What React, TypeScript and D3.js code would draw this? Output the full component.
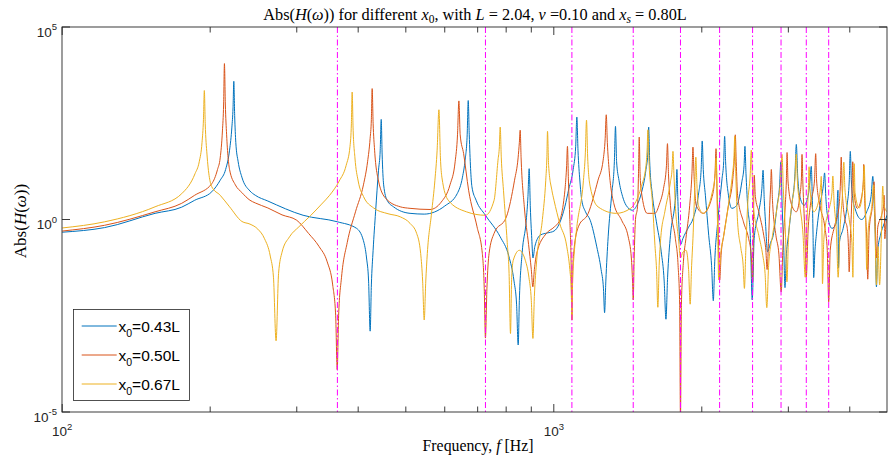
import React from "react";
import * as d3 from "d3";

// ---------- data (frequency [Hz], log10 |H|) ----------
const seriesBlue: [number, number][] = [
  [100,-0.33],[122,-0.21],[154.5,0.16],[175,0.32],[186,0.5],[201.5,0.72],[209.6,1.02],[215,1.3],[219,1.8],[221.4,2.4],[222.6,2.9],[223.4,3.59],[224.3,2.7],[225.5,2.0],[228,1.5],[232,1.1],[241,0.74],[247,0.63],[262,0.48],[309,0.11],[363,-0.06],[397,-0.23],[410,-0.55],[416,-1.0],[420,-1.6],[423.1,-2.9],[425.5,-1.7],[429,-0.8],[434,0.2],[440,1.28],[443.5,1.8],[445.6,2.6],[447.5,1.7],[450.7,0.9],[458,0.5],[472,0.33],[510,0.16],[545,0.14],[600,0.35],[636,0.67],[652,1.1],[660,1.54],[666.5,2.2],[669.8,3.09],[673,2.2],[681.5,0.85],[695,0.5],[726,0.11],[778,-0.45],[810,-0.95],[830,-1.6],[840,-2.2],[846.4,-3.26],[851,-2.1],[862,-0.88],[879,-0.02],[886,0.6],[891,1.32],[896,0.3],[902,-0.5],[907,-1.0],[915,-0.7],[940,-0.4],[970,-0.35],[1001,-0.3],[1027,-0.1],[1053,0.33],[1073,0.8],[1095,1.3],[1108,1.9],[1114,2.66],[1120,1.8],[1130,1.0],[1140,0.5],[1160,0.2],[1186,-0.02],[1223,-0.71],[1248,-1.3],[1262,-1.8],[1268.5,-2.42],[1276,-1.6],[1290,-0.45],[1312,0.67],[1328,1.5],[1335,2.42],[1342,1.5],[1357,1.02],[1380,0.6],[1403,0.37],[1445,0.24],[1480,0.4],[1506,0.67],[1540,1.3],[1553,1.7],[1559.6,2.4],[1567,1.5],[1587,0.63],[1617,-0.06],[1654,-0.84],[1677,-1.6],[1691,-2.59],[1704,-1.5],[1727,-0.41],[1762,0.37],[1774,0.8],[1780,1.3],[1787,0.6],[1799,-0.3],[1812,-0.65],[1830,-0.5],[1880,-0.2],[1921,0.03],[1968,0.63],[1994,1.3],[2004,2.04],[2014,1.3],[2034,0.63],[2066,-0.41],[2094,-1.2],[2111,-2.11],[2125,-1.1],[2155,-0.06],[2199,1.06],[2216,1.5],[2226,2.16],[2236,1.5],[2266,0.63],[2302,0.29],[2356,0.37],[2413,0.98],[2438,1.4],[2448,1.9],[2460,1.2],[2479,0.37],[2510,-0.41],[2533,-2.09],[2556,-0.5],[2612,0.2],[2650,0.8],[2665,1.28],[2680,0.5],[2695,-0.06],[2722,-0.84],[2760,-0.6],[2795,-0.41],[2847,0.37],[2880,0.9],[2896,1.49],[2915,0.3],[2937,-0.8],[2953,-1.77],[2970,-1.0],[3001,-0.41],[3048,0.37],[3095,1.2],[3114,1.95],[3135,1.1],[3161,0.63],[3230,0.37],[3292,0.63],[3320,1.0],[3340,1.38],[3355,0.6],[3368,-0.4],[3378,-1.51],[3395,-0.9],[3425,-0.32],[3478,0.37],[3535,0.9],[3555,1.21],[3575,0.6],[3598,0.16],[3680,-0.23],[3755,-0.1],[3785,0.76],[3794,-1.26],[3810,-0.6],[3878,-0.23],[3950,0.37],[3990,1.0],[4010,1.77],[4030,1.0],[4060,0.5],[4099,0.29],[4172,0.05],[4230,0.0],[4330,0.2],[4420,0.6],[4456,1.12],[4480,0.5],[4505,-0.3],[4532,-1.75],[4560,-0.8],[4617,-0.41],[4700,-0.1],[4762,0.11],
];

const seriesRed: [number, number][] = [
  [100,-0.30],[122,-0.15],[154.5,0.2],[175,0.42],[186,0.63],[201.5,0.93],[207,1.3],[209.6,1.6],[211.8,2.3],[213,3.0],[213.8,4.05],[214.7,3.0],[216,2.2],[219,1.3],[225,0.9],[232,0.7],[241,0.5],[247,0.43],[262,0.3],[280,0.12],[300,-0.02],[317,-0.36],[333,-0.7],[346,-1.1],[355,-1.7],[360,-2.5],[362.6,-3.9],[365,-2.5],[370,-1.5],[380,-0.6],[395,0.2],[410,0.9],[418,1.5],[423,2.1],[425.5,2.6],[427.1,3.4],[429,2.5],[432,1.8],[440,1.0],[455,0.55],[487,0.33],[510,0.29],[560,0.26],[590,0.45],[615,0.9],[630,1.5],[637,2.2],[641.1,3.08],[645,2.2],[655.5,1.71],[671,0.76],[698,-0.19],[715.5,-0.88],[722,-1.8],[726,-3.08],[731,-1.8],[738.5,-0.88],[756,-0.36],[801,0.07],[832,1.02],[846,1.6],[851,2.0],[854.3,2.32],[858,1.6],[871,0.33],[888.6,-0.65],[900,-1.3],[906.5,-1.75],[913,-1.3],[923,-0.88],[966,-0.36],[1001,-0.2],[1028,-0.02],[1048,0.5],[1055,0.85],[1062,1.4],[1066,1.9],[1071,1.0],[1078,0.0],[1084,-1.0],[1088.5,-2.61],[1093,-1.3],[1099,-0.8],[1122,-0.19],[1175,0.16],[1230,1.02],[1260,1.54],[1272,2.1],[1278.5,2.72],[1285,2.0],[1296,1.28],[1325,0.41],[1374,-0.02],[1417,-0.45],[1438,-1.0],[1446,-1.6],[1450.7,-2.09],[1457,-1.0],[1466,0.0],[1480,0.33],[1487,1.2],[1492,2.14],[1498,1.2],[1506,0.75],[1549,0.16],[1606,0.16],[1640,0.4],[1672,0.81],[1695,1.4],[1703,1.97],[1711,1.2],[1727,0.37],[1767,-0.49],[1790,-1.2],[1803,-2.2],[1810,-5.2],[1818,-2.2],[1835,-1.1],[1857,-0.49],[1890,0.37],[1910,1.2],[1919,1.88],[1928,1.2],[1948,0.37],[2014,0.16],[2100,0.6],[2128,1.2],[2138,1.84],[2148,0.8],[2160,-0.3],[2175,-1.57],[2190,-0.9],[2217,-0.41],[2266,0.37],[2313,1.06],[2330,1.6],[2340,2.2],[2350,1.5],[2365,0.63],[2431,-0.06],[2490,-0.49],[2520,-0.9],[2538,-1.62],[2548,0.0],[2557,1.15],[2570,0.6],[2612,0.2],[2673,-0.41],[2700,-0.8],[2716,-1.3],[2735,-0.5],[2750,0.37],[2762,0.9],[2770,1.3],[2785,0.5],[2830,-0.41],[2870,-0.9],[2901,-1.88],[2925,-0.7],[2955,0.3],[2972,1.0],[2982,1.74],[2995,1.0],[3048,0.37],[3114,0.2],[3165,0.6],[3190,1.1],[3198,1.69],[3212,0.9],[3240,-0.3],[3263,-1.49],[3290,-0.3],[3326,0.37],[3390,1.0],[3410,1.71],[3425,1.0],[3478,0.37],[3562,-0.23],[3600,-0.8],[3624,-2.14],[3650,-0.8],[3720,-0.2],[3800,0.3],[3830,1.0],[3843,1.62],[3860,0.8],[3910,0.0],[3950,-0.2],[3975,-0.7],[3989,-1.36],[4010,-0.5],[4040,0.6],[4056,1.5],[4075,0.8],[4143,0.29],[4230,0.6],[4262,1.0],[4270,1.43],[4290,0.5],[4330,-0.5],[4351,-1.55],[4380,-0.3],[4450,0.4],[4483,0.98],[4500,0.2],[4532,-1.0],[4560,-0.2],[4640,0.1],[4690,0.4],[4697,0.63],[4707,0.0],[4714,-0.5],[4740,-0.1],[4762,0.0],
];

const seriesYellow: [number, number][] = [
  [100,-0.22],[122,-0.06],[154.5,0.33],[175,0.67],[186.3,1.19],[190,1.5],[192.5,2.0],[193.8,2.6],[194.6,3.35],[195.4,2.5],[197,1.7],[201.5,0.85],[209.6,0.63],[219,0.33],[232,-0.05],[241,-0.12],[250,-0.25],[258,-0.5],[265,-0.95],[269,-1.5],[272.3,-3.15],[275.5,-1.4],[280,-0.85],[290,-0.45],[303,-0.19],[320,0.1],[337,0.4],[350,0.63],[366,1.0],[378,1.4],[385,1.9],[387.5,2.5],[388.9,3.31],[390.5,2.4],[394,1.6],[400,1.0],[410,0.6],[430,0.3],[460,0.15],[487,0.07],[510,-0.10],[526,-0.36],[536,-0.88],[541,-1.6],[545,-2.61],[549,-1.6],[553,-0.88],[564,0.16],[573,1.02],[579,1.8],[583.9,2.85],[588,1.6],[592,1.1],[610,0.5],[664,0.2],[726,0.11],[756,0.5],[770,1.54],[775,1.9],[778,2.4],[782,1.6],[790,0.76],[804,-0.6],[811,-1.4],[816.4,-2.96],[821,-1.5],[827,-1.06],[851,-0.8],[875,-1.06],[890,-1.5],[900,-2.1],[906.8,-3.09],[913,-2.0],[923,-1.06],[948,0.0],[963,1.02],[968,1.6],[971,2.29],[976,1.4],[991,0.76],[1001,0.5],[1028,-0.1],[1063,-0.71],[1078,-1.3],[1085,-1.8],[1088.5,-2.61],[1092,-1.6],[1100,-0.9],[1114,-0.19],[1149,1.02],[1159,1.7],[1165.6,2.58],[1172,1.6],[1186,0.85],[1230,0.33],[1340,0.16],[1433,0.29],[1506,0.85],[1540,1.4],[1548,1.8],[1554,2.33],[1562,1.5],[1587,0.45],[1606,-0.67],[1618,-1.3],[1628,-2.28],[1638,-1.2],[1650,-0.49],[1682,0.2],[1727,0.98],[1740,1.3],[1747.5,1.77],[1755,1.2],[1767,0.37],[1793,-0.49],[1810,-1.0],[1830,-0.85],[1858,-0.8],[1880,-1.3],[1894,-2.2],[1907,-1.2],[1919,-0.49],[1935,0.8],[1945,1.62],[1955,0.9],[1968,0.37],[2014,0.16],[2100,0.7],[2130,1.2],[2139,1.6],[2148,0.6],[2155,-0.4],[2165,-1.57],[2185,-0.9],[2217,-0.41],[2266,0.37],[2310,1.2],[2325,1.6],[2334,2.16],[2345,1.2],[2365,-0.06],[2402,-0.75],[2428,-1.2],[2442,-1.79],[2458,-0.8],[2479,0.37],[2510,1.2],[2522,1.8],[2535,1.0],[2548,0.3],[2612,-0.41],[2661,-0.93],[2690,-1.4],[2712,-2.29],[2735,-1.2],[2786,-0.41],[2850,0.37],[2895,1.1],[2912,1.69],[2930,0.8],[2960,-0.4],[2980,-1.62],[3000,-0.6],[3048,0.37],[3095,1.1],[3112,1.7],[3130,1.0],[3166,0.37],[3214,-0.41],[3247,-1.5],[3270,-0.2],[3295,0.8],[3306,1.37],[3320,0.8],[3380,0.2],[3460,0.5],[3490,0.9],[3500,1.12],[3510,0.0],[3520,-1.67],[3540,-0.6],[3562,-0.23],[3618,0.2],[3680,0.7],[3695,1.13],[3715,0.5],[3760,-0.4],[3788,-1.5],[3820,-0.3],[3870,0.8],[3890,1.49],[3910,0.8],[3990,0.0],[4040,-0.6],[4059,-1.5],[4072,0.0],[4084,1.45],[4100,0.7],[4180,0.3],[4260,0.9],[4279,1.4],[4300,0.5],[4315,-0.3],[4329,-1.3],[4360,-0.3],[4440,0.4],[4473,0.9],[4495,0.2],[4532,-1.7],[4565,-0.7],[4600,-1.7],[4640,-0.3],[4668,0.87],[4690,0.4],[4762,0.2],
];

const seriesLabels = ["0.43L", "0.50L", "0.67L"];
const seriesColors = ["#0072BD", "#D95319", "#EDB120"];

// vertical dash-dot marker lines (Hz)
const markerFreqs = [362.9, 726.1, 1088.5, 1450.7, 1810, 2174, 2537, 2899, 3263, 3624];

const xDomain = [100, 4762];
const yDomain = [1e-5, 1e5];
const xMajorTicks = [100, 1000];
const xMajorExp = ["2", "3"];
const xMinorTicks = [200, 300, 400, 500, 600, 700, 800, 900, 2000, 3000, 4000];
const yTicks = [1e-5, 1, 1e5];
const yTickExp = ["-5", "0", "5"];

const PL = 62.2, PR = 887, PT = 27, PB = 412;
const SANS = "'Liberation Sans', Arial, Helvetica, sans-serif";
const SERIF = "'Liberation Serif', 'Times New Roman', serif";
const AX = "#262626";

export default function App() {
  const x = d3.scaleLog().domain(xDomain).range([PL, PR]);
  const y = d3.scaleLog().domain(yDomain).range([PB, PT]);
  const line = d3
    .line<[number, number]>()
    .x((d) => x(d[0]))
    .y((d) => y(Math.pow(10, d[1])))
    .curve(d3.curveMonotoneX);

  const allSeries = [seriesBlue, seriesRed, seriesYellow];
  const BL = 62;

  return (
    <div style={{ position: "absolute", left: 0, top: 0, width: 888, height: 463, background: "#fff" }}>
      <svg width={888} height={463} viewBox="0 0 888 463">
        <defs>
          <clipPath id="plotclip">
            <rect x={BL} y={PT} width={PR - BL} height={PB - PT} />
          </clipPath>
        </defs>
        <rect x={0} y={0} width={888} height={463} fill="#fff" />

        <g clipPath="url(#plotclip)">
          {allSeries.map((s, i) => (
            <path key={i} d={line(s) || ""} fill="none" stroke={seriesColors[i]} strokeWidth={1} strokeLinejoin="round" />
          ))}
          {markerFreqs.map((f, i) => (
            <line key={i} x1={x(f)} x2={x(f)} y1={PT} y2={PB} stroke="#FF00FF" strokeWidth={1} strokeDasharray="6,2.5,1.5,2.5" />
          ))}
        </g>

        {/* axes box */}
        <rect x={BL} y={PT} width={PR - BL} height={PB - PT} fill="none" stroke={AX} strokeWidth={0.9} />

        {/* x ticks */}
        {xMajorTicks.map((t, i) => (
          <g key={"xm" + i}>
            <line x1={x(t)} x2={x(t)} y1={PB} y2={PB - 8} stroke={AX} strokeWidth={0.9} />
            <line x1={x(t)} x2={x(t)} y1={PT} y2={PT + 8} stroke={AX} strokeWidth={0.9} />
            <text x={x(t)} y={436} textAnchor="middle" fontFamily={SANS} fontSize={13.5} fill={AX}>
              10<tspan dy={-6.5} fontSize={9.5}>{xMajorExp[i]}</tspan>
            </text>
          </g>
        ))}
        {xMinorTicks.map((t, i) => (
          <g key={"xn" + i}>
            <line x1={x(t)} x2={x(t)} y1={PB} y2={PB - 5.5} stroke={AX} strokeWidth={0.9} />
            <line x1={x(t)} x2={x(t)} y1={PT} y2={PT + 5.5} stroke={AX} strokeWidth={0.9} />
          </g>
        ))}

        {/* y ticks */}
        {yTicks.map((t, i) => (
          <g key={"y" + i}>
            <line x1={BL} x2={BL + 8} y1={y(t)} y2={y(t)} stroke={AX} strokeWidth={0.9} />
            <line x1={PR} x2={PR - 8} y1={y(t)} y2={y(t)} stroke={AX} strokeWidth={0.9} />
            <text x={57} y={y(t) + 9.5} textAnchor="end" fontFamily={SANS} fontSize={13.5} fill={AX}>
              10<tspan dy={-6.5} fontSize={9.5}>{yTickExp[i]}</tspan>
            </text>
          </g>
        ))}

        {/* title */}
        <text x={475} y={20} textAnchor="middle" fontFamily={SERIF} fontSize={16.3} fill="#000">
          Abs(<tspan fontStyle="italic">H</tspan>(<tspan fontStyle="italic">ω</tspan>)) for different{" "}
          <tspan fontStyle="italic">x</tspan>
          <tspan fontSize={11.5} dy={3}>0</tspan>
          <tspan dy={-3}>, with </tspan>
          <tspan fontStyle="italic">L</tspan> = 2.04, <tspan fontStyle="italic">ν</tspan> =0.10 and{" "}
          <tspan fontStyle="italic">x</tspan>
          <tspan fontSize={11.5} dy={3} fontStyle="italic">s</tspan>
          <tspan dy={-3}> = 0.80L</tspan>
        </text>

        {/* x label */}
        <text x={478} y={451} textAnchor="middle" fontFamily={SERIF} fontSize={15.8} fill="#000">
          Frequency, <tspan fontStyle="italic">f</tspan> [Hz]
        </text>

        {/* y label */}
        <text transform="translate(26,221) rotate(-90)" textAnchor="middle" fontFamily={SERIF} fontSize={17} fill="#000">
          Abs(<tspan fontStyle="italic">H</tspan>(<tspan fontStyle="italic">ω</tspan>))
        </text>

        {/* legend */}
        <rect x={73.5} y={309.5} width={116} height={91} fill="#fff" stroke={AX} strokeWidth={0.8} />
        {seriesLabels.map((lab, i) => {
          const ly = 326 + i * 29;
          return (
            <g key={"lg" + i}>
              <line x1={81.7} x2={116.7} y1={ly} y2={ly} stroke={seriesColors[i]} strokeWidth={1} />
              <text x={118.5} y={ly + 5.7} fontFamily={SANS} fontSize={15.5} fill="#000">
                x<tspan fontSize={10.5} dy={5}>0</tspan>
                <tspan dy={-5}>={lab}</tspan>
              </text>
            </g>
          );
        })}
      </svg>
    </div>
  );
}
